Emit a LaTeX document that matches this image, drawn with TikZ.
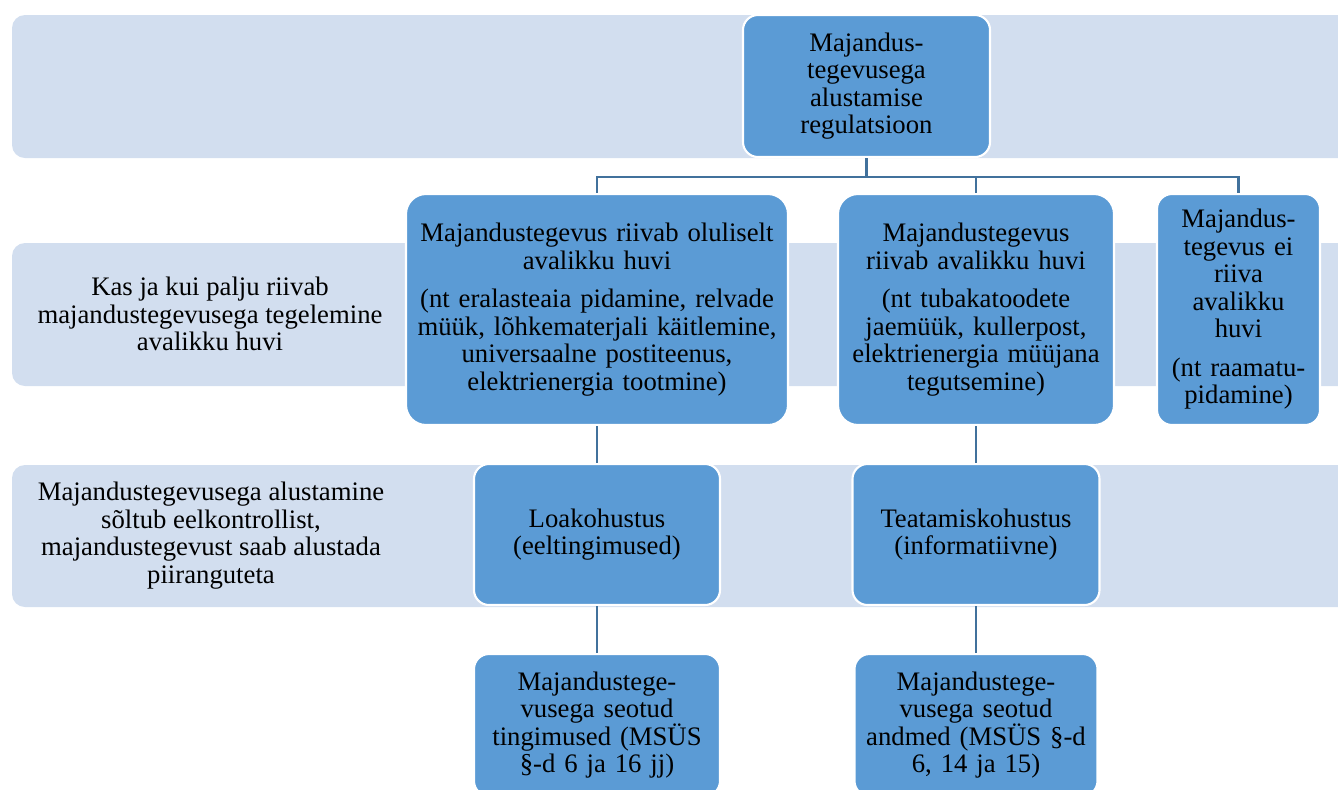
\documentclass[tikz,border=0pt]{standalone}
\usepackage{fontspec}
\setmainfont{Liberation Serif}
\usepackage{xcolor}
\usetikzlibrary{positioning, calc}

\definecolor{bandblue}{HTML}{D2DEEF}
\definecolor{boxblue}{HTML}{5B9BD5}
\definecolor{linkblue}{HTML}{41719C}

\begin{document}
\begin{tikzpicture}[
    font=\fontsize{15.2}{15.6}\selectfont,
    band/.style={fill=bandblue, rounded corners=0.26cm},
    block/.style={rectangle, draw=white, line width=1.2pt, fill=boxblue, rounded corners=0.3cm, align=center, inner sep=0pt},
    link/.style={draw=linkblue, line width=1.5pt}
]
    \useasboundingbox (0,0) rectangle (26.76,-15.78);
    \clip (0,0) rectangle (26.76,-15.78);

    % Background bands
    \path[band] (0.24,-0.30) rectangle (27.6,-3.16);
    \path[band] (0.24,-4.86) rectangle (27.6,-7.72);
    \path[band] (0.24,-9.30) rectangle (27.6,-12.14);

    \node[align=center] (qlabel) at (4.2,-6.28) {Kas ja kui palju riivab\\majandustegevusega tegelemine\\avalikku huvi};
    \node[align=center] (slabel) at (4.22,-10.71) {Majandustegevusega alustamine\\sõltub eelkontrollist,\\majandustegevust saab alustada\\piiranguteta};

    \node[block, minimum width=4.94cm, text width=4.7cm, minimum height=2.84cm] (reg) at (17.33,-1.72) {Majandus-\\tegevusega\\alustamise\\regulatsioon};

    \node[block, rounded corners=0.4cm, minimum width=7.64cm, text width=7.4cm, minimum height=4.62cm] (strong) at (11.94,-6.19) {Majandustegevus riivab oluliselt\\avalikku huvi\\[6.5pt](nt eralasteaia pidamine, relvade\\müük, lõhkematerjali käitlemine,\\universaalne postiteenus,\\elektrienergia tootmine)};
    \node[block, rounded corners=0.4cm, minimum width=5.52cm, text width=5.3cm, minimum height=4.62cm] (mild) at (19.52,-6.19) {Majandustegevus\\riivab avalikku huvi\\[6.5pt](nt tubakatoodete\\jaemüük, kullerpost,\\elektrienergia müüjana\\tegutsemine)};
    \node[block, minimum width=3.26cm, text width=3.06cm, minimum height=4.62cm] (none) at (24.77,-6.19) {Majandus-\\tegevus ei\\riiva\\avalikku\\huvi\\[6.5pt](nt raamatu-\\pidamine)};

    \node[block, minimum width=4.92cm, text width=4.7cm, minimum height=2.82cm] (permit) at (11.94,-10.69) {Loakohustus\\(eeltingimused)};
    \node[block, minimum width=4.94cm, text width=4.7cm, minimum height=2.82cm] (notify) at (19.52,-10.69) {Teatamiskohustus\\(informatiivne)};

    \node[block, minimum width=4.92cm, text width=4.7cm, minimum height=2.84cm] (cond) at (11.94,-14.50) {Majandustege-\\vusega seotud\\tingimused (MSÜS\\§-d 6 ja 16 jj)};
    \node[block, minimum width=4.86cm, text width=4.6cm, minimum height=2.84cm] (data) at (19.52,-14.50) {Majandustege-\\vusega seotud\\andmed (MSÜS §-d\\6, 14 ja 15)};

    % Connectors
    \draw[link] (reg.south) -- ++(0,-0.38) -| (strong.north);
    \draw[link] (reg.south) -- ++(0,-0.38) -| (mild.north);
    \draw[link] (reg.south) -- ++(0,-0.38) -| (none.north);
    \draw[link] (strong.south) -- (permit.north);
    \draw[link] (mild.south) -- (notify.north);
    \draw[link] (permit.south) -- (cond.north);
    \draw[link] (notify.south) -- (data.north);
\end{tikzpicture}
\end{document}
